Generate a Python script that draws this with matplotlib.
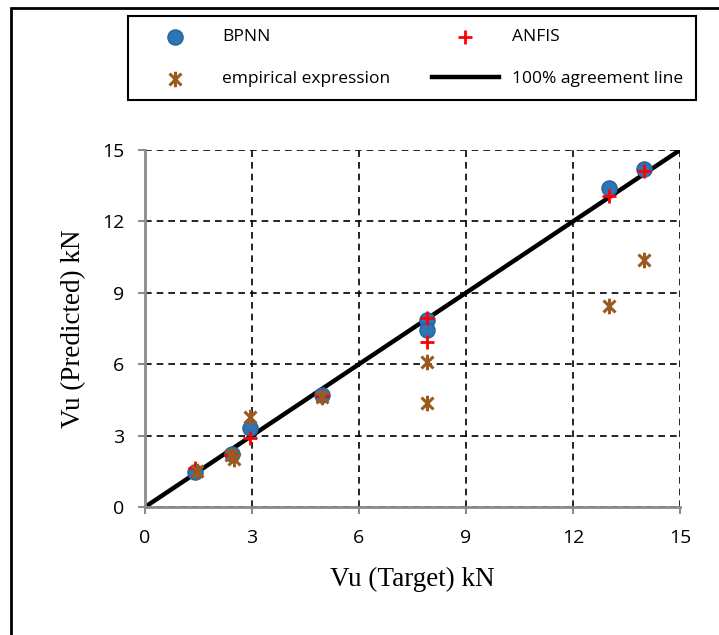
import matplotlib
matplotlib.use("Agg")
import matplotlib.pyplot as plt
from matplotlib.path import Path
from matplotlib.lines import Line2D
from matplotlib.patches import Rectangle

# data
bpnn_x = [1.4, 2.45, 2.95, 4.95, 7.9, 7.9, 13.0, 14.0]
bpnn_y = [1.47, 2.22, 3.32, 4.7, 7.86, 7.45, 13.4, 14.2]

anfis_x = [1.4, 2.4, 2.95, 4.95, 7.9, 7.9, 13.0, 14.0]
anfis_y = [1.62, 2.18, 2.88, 4.68, 7.94, 6.95, 13.05, 14.1]

emp_x = [1.45, 2.4, 2.5, 2.95, 4.95, 7.9, 7.9, 13.0, 14.0]
emp_y = [1.52, 2.18, 2.03, 3.8, 4.62, 6.08, 4.35, 8.45, 10.38]

line_x = [0, 15]
line_y = [0, 15]

ticks = [0, 3, 6, 9, 12, 15]

# excel style star: x plus vertical bar
star = Path([(-1, -1), (1, 1), (-1, 1), (1, -1), (0, -1.3), (0, 1.3)],
            [Path.MOVETO, Path.LINETO, Path.MOVETO, Path.LINETO, Path.MOVETO, Path.LINETO])

blue = '#2E75B6'
brown = '#9C5B1E'

fig = plt.figure(figsize=(7.19, 6.35), dpi=100)
ax = fig.add_axes([145/719, 1-507/635, 535/719, 357/635])

ax.plot(line_x, line_y, color='black', lw=3.2, zorder=2)
h1 = ax.scatter(bpnn_x, bpnn_y, s=115, color=blue, edgecolors='#2A66A0', linewidths=1.2, zorder=3)
h2 = ax.scatter(anfis_x, anfis_y, s=110, marker='+', color='red', linewidths=2, zorder=4)
h3 = ax.scatter(emp_x, emp_y, s=125, marker=star, color=brown, linewidths=2.2, zorder=5)

ax.set_xlim(0, 15)
ax.set_ylim(0, 15)
ax.set_xticks(ticks)
ax.set_yticks(ticks)
ax.grid(True, color='black', linestyle=(0, (4, 3)), lw=1.2)
ax.set_axisbelow(True)
for s in ['top', 'right']:
    ax.spines[s].set_visible(False)
for s in ['left', 'bottom']:
    ax.spines[s].set_color('#8c8c8c')
    ax.spines[s].set_linewidth(2)
ax.tick_params(colors='#8c8c8c', length=5, width=1.5, labelcolor='black', labelsize=14)
ax.tick_params(axis='x', pad=11)
ax.tick_params(axis='y', pad=10)
for lab in ax.get_xticklabels() + ax.get_yticklabels():
    lab.set_family('Open Sans')

ax.set_xlabel('Vu (Target) kN', family='Liberation Serif', fontsize=19.5, labelpad=14)
ax.set_ylabel('Vu (Predicted) kN', family='Liberation Serif', fontsize=19.5, labelpad=11)

hline = Line2D([], [], color='black', lw=3.2)
leg = fig.legend([h1, h3, h2, hline],
                 ['BPNN', 'empirical expression', 'ANFIS', '100% agreement line'],
                 ncol=2, loc='upper left',
                 bbox_to_anchor=(128/719, 1-16/635),
                 prop={'family': 'Open Sans', 'size': 12.5}, handlelength=3.9,
                 handletextpad=0.75, columnspacing=2.4, labelspacing=1.5,
                 borderpad=0.75, borderaxespad=0,
                 fancybox=False, edgecolor='black', framealpha=1)
leg.get_frame().set_linewidth(1.5)

# outer frame of the picture
fig.patches.append(Rectangle((11/719, -0.1), 1.2, 1-8/635+0.1, transform=fig.transFigure,
                             fill=False, edgecolor='black', lw=2))

fig.savefig('out.png', dpi=100)
